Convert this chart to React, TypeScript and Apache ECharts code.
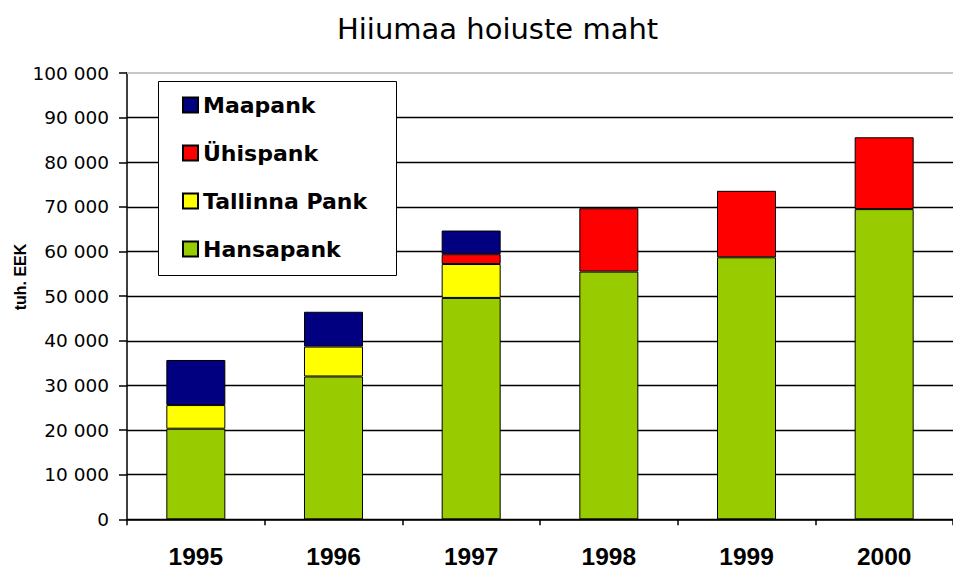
import React, { useEffect, useRef } from "react";
import * as echarts from "echarts";

const years = ["1995", "1996", "1997", "1998", "1999", "2000"];
const hansapank = [20300, 32000, 49600, 55500, 58700, 69500];
const tallinnaPank = [5300, 6700, 7600, null, null, null];
const yhispank = [null, null, 2200, 14200, 14900, 16100];
const maapank = [10100, 7800, 5300, null, null, null];
const legendOrder = ["Maapank", "Ühispank", "Tallinna Pank", "Hansapank"];
const titleText = "Hiiumaa hoiuste maht";
const yAxisTitle = "tuh. EEK";
const yMax = 100000;

const fmt = (v: number) => String(v).replace(/\B(?=(\d{3})+(?!\d))/g, " ");

export default function App() {
  const ref = useRef<HTMLDivElement>(null);
  useEffect(() => {
    if (!ref.current) return;
    const chart = echarts.init(ref.current, undefined, { renderer: "svg" });
    const border = { borderColor: "#000", borderWidth: 1 };
    const splitColors = Array(10).fill("#000").concat("#c8c8c8");
    chart.setOption({
      animation: false,
      backgroundColor: "#fff",
      title: {
        text: titleText,
        left: 337,
        top: 14,
        padding: 0,
        textStyle: { fontFamily: "DejaVu Sans", fontSize: 29, fontWeight: "normal", color: "#000" },
      },
      grid: { left: 127, top: 73, bottom: 52.7, right: -10.4, containLabel: false },
      legend: {
        orient: "vertical",
        left: 182,
        top: 94,
        padding: 0,
        icon: "rect",
        itemWidth: 15,
        itemHeight: 15,
        itemGap: 26,
        z: 6,
        data: legendOrder,
        textStyle: { fontFamily: "DejaVu Sans", fontWeight: "bold", fontSize: 22, color: "#000" },
      },
      graphic: [
        {
          type: "rect",
          z: 4,
          shape: { x: 158.5, y: 81.5, width: 238, height: 194 },
          style: { fill: "#fff", stroke: "#000", lineWidth: 1 },
        },
        {
          type: "text",
          x: 20,
          y: 277,
          rotation: Math.PI / 2,
          z: 4,
          style: {
            text: yAxisTitle,
            fontFamily: "Liberation Sans, Arial",
            fontWeight: "bold",
            fontSize: 16,
            fill: "#000",
            align: "center",
            verticalAlign: "middle",
          },
        },
      ],
      xAxis: {
        type: "category",
        data: years,
        boundaryGap: true,
        axisLine: { lineStyle: { color: "#000", width: 1.5 } },
        axisTick: { show: true, length: 6, lineStyle: { color: "#000", width: 1.5 } },
        axisLabel: {
          margin: 25,
          fontFamily: "Liberation Sans, Arial",
          fontWeight: "bold",
          fontSize: 24.5,
          color: "#000",
        },
        splitLine: { show: false },
      },
      yAxis: {
        type: "value",
        min: 0,
        max: yMax,
        interval: 10000,
        axisLine: { show: true, lineStyle: { color: "#000", width: 1.5 } },
        axisTick: { show: true, length: 8, lineStyle: { color: "#000", width: 1.5 } },
        axisLabel: {
          margin: 18,
          formatter: fmt,
          fontFamily: "DejaVu Sans",
          fontSize: 18.5,
          color: "#000",
        },
        splitLine: { show: true, showMaxLine: false, lineStyle: { color: splitColors, width: 1.3 } },
      },
      series: [
        {
          name: "Hansapank",
          type: "bar",
          stack: "a",
          barWidth: 59,
          data: hansapank,
          itemStyle: { color: "#99CC00", ...border },
          markLine: {
            silent: true,
            symbol: "none",
            z: 1,
            label: { show: false },
            lineStyle: { color: "#c8c8c8", width: 2, type: "solid" },
            data: [{ yAxis: yMax }],
          },
        },
        { name: "Tallinna Pank", type: "bar", stack: "a", barWidth: 59, data: tallinnaPank, itemStyle: { color: "#FFFF00", ...border } },
        { name: "Ühispank", type: "bar", stack: "a", barWidth: 59, data: yhispank, itemStyle: { color: "#FF0000", ...border } },
        { name: "Maapank", type: "bar", stack: "a", barWidth: 59, data: maapank, itemStyle: { color: "#000080", ...border } },
      ],
    });
    return () => chart.dispose();
  }, []);
  return (
    <div
      ref={ref}
      style={{ position: "fixed", left: 0, top: 0, width: 953, height: 572 }}
    />
  );
}
